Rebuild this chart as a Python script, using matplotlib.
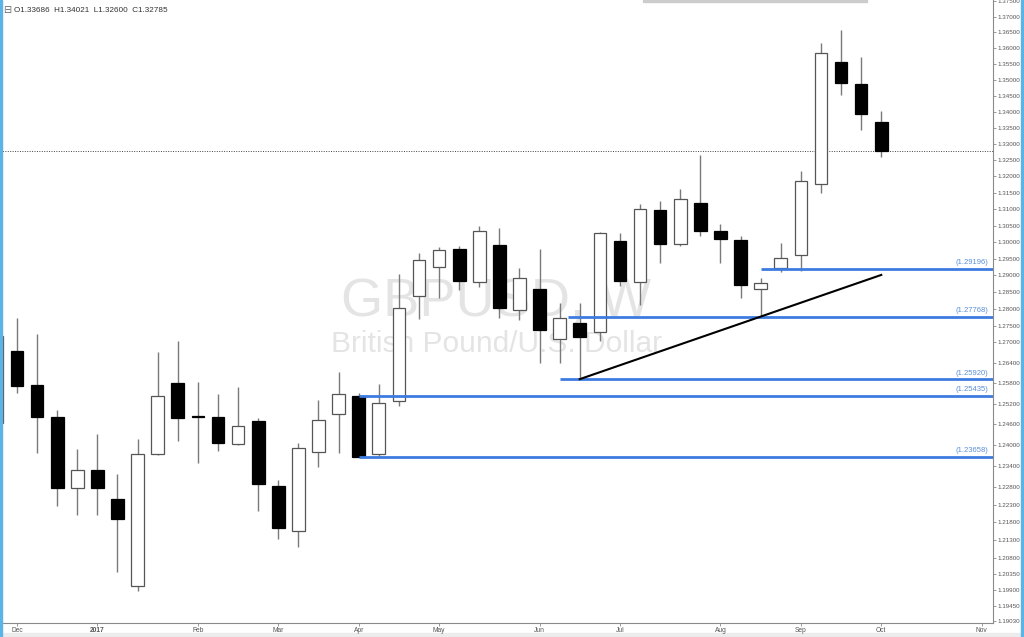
import numpy as np
import matplotlib.pyplot as plt
from matplotlib.patches import Rectangle
from matplotlib.ticker import FixedLocator, FixedFormatter, NullLocator

plt.rcParams["font.family"] = ["Liberation Sans", "DejaVu Sans"]

# weekly GBPUSD bars, index 0 = week of 5 Dec 2016 (-1 is the cut-off bar on the left edge)
week = np.arange(-1, 44)
opens = [1.2464, 1.2676, 1.2574, 1.2481, 1.2278, 1.2330, 1.2246, 1.2000, 1.2374, 1.2580,
         1.2484, 1.2481, 1.2403, 1.2470, 1.2284, 1.2154, 1.2380, 1.2490, 1.2544, 1.2374,
         1.2528, 1.2837, 1.2924, 1.2979, 1.2879, 1.2991, 1.2797, 1.2858, 1.2711, 1.2758,
         1.2731, 1.3003, 1.2879, 1.3097, 1.2994, 1.3118, 1.3033, 1.3006, 1.2858, 1.2921,
         1.2961, 1.3178, 1.3556, 1.3487, 1.33686]
highs = [1.2740, 1.2772, 1.2726, 1.2502, 1.2388, 1.2432, 1.2316, 1.2417, 1.2673, 1.2705,
         1.2583, 1.2548, 1.2569, 1.2478, 1.2301, 1.2406, 1.2531, 1.2612, 1.2551, 1.2577,
         1.2903, 1.2967, 1.2985, 1.2988, 1.3048, 1.3042, 1.2921, 1.2979, 1.2816, 1.2816,
         1.3030, 1.3027, 1.3115, 1.3124, 1.3160, 1.3267, 1.3054, 1.3018, 1.2891, 1.2997,
         1.3218, 1.3616, 1.3656, 1.3572, 1.34021]
lows = [1.2455, 1.2551, 1.2377, 1.2226, 1.2201, 1.2199, 1.2039, 1.1986, 1.2371, 1.2412,
        1.2348, 1.2383, 1.2400, 1.2212, 1.2132, 1.2109, 1.2336, 1.2377, 1.2366, 1.2365,
        1.2513, 1.2770, 1.2831, 1.2855, 1.2864, 1.2773, 1.2767, 1.2638, 1.2638, 1.2592,
        1.2705, 1.2867, 1.2812, 1.2936, 1.2988, 1.3018, 1.2936, 1.2831, 1.2777, 1.2909,
        1.2912, 1.3148, 1.3452, 1.3342, 1.32600]
closes = [1.2720, 1.2572, 1.2481, 1.2278, 1.2330, 1.2278, 1.2190, 1.2374, 1.2542, 1.2478,
          1.2482, 1.2406, 1.2455, 1.2289, 1.2162, 1.2391, 1.2473, 1.2548, 1.2367, 1.2522,
          1.2803, 1.2946, 1.2976, 1.2882, 1.3033, 1.2803, 1.2891, 1.2737, 1.2773, 1.2717,
          1.3027, 1.2882, 1.3100, 1.2994, 1.3130, 1.3033, 1.3009, 1.2870, 1.2876, 1.2952,
          1.3187, 1.3584, 1.3490, 1.3392, 1.32785]

# support levels drawn by hand and the bar where each one starts
levels = [1.29196, 1.27768, 1.25920, 1.25435, 1.23658]
level_start = [37, 27.4, 27, 17, 17]

# trend line from the June low up to the last bar
trend_x = [28, 43]
trend_y = [1.2592, 1.2901]

month_pos = [0, 4, 9, 13, 17, 21, 26, 30, 35, 39, 43, 48]
month_lab = ["Dec", "2017", "Feb", "Mar", "Apr", "May", "Jun", "Jul", "Aug", "Sep", "Oct", "Nov"]

price_ticks = [1.375, 1.370, 1.365, 1.360, 1.355, 1.350, 1.345, 1.340, 1.335, 1.330,
               1.325, 1.320, 1.315, 1.310, 1.305, 1.300, 1.295, 1.290, 1.285, 1.280,
               1.275, 1.270, 1.264, 1.258, 1.252, 1.246, 1.240, 1.234, 1.228, 1.223,
               1.218, 1.213, 1.208, 1.2035, 1.199, 1.1945, 1.1903]

last_close = closes[-1]

fig = plt.figure(figsize=(10.24, 6.37), dpi=100)
ax = fig.add_axes([0.0, 14 / 637, 993 / 1024, 623 / 637])
ax.set_yscale("log")
ax.set_xlim(-0.846, 48.56)
ax.set_ylim(1.18975, 1.37531)

# watermark
ax.text(0.5, 0.493, "GBPUSD, W", transform=ax.transAxes, ha="center", va="baseline",
        fontsize=39, color="#e4e4e4", zorder=0)
ax.text(0.5, 0.435, "British Pound/U.S. Dollar", transform=ax.transAxes, ha="center",
        va="baseline", fontsize=21.5, color="#e4e4e4", zorder=0)

o = np.array(opens)
c = np.array(closes)
up = c >= o
body_lo = np.minimum(o, c)
body_hi = np.maximum(o, c)
width = 0.63

ax.vlines(week, lows, highs, color="#7a7a7a", lw=1.0, zorder=3)
ax.bar(week[up], body_hi[up] - body_lo[up], bottom=body_lo[up], width=width,
       facecolor="white", edgecolor="#555555", lw=0.9, zorder=4)
ax.bar(week[~up], body_hi[~up] - body_lo[~up], bottom=body_lo[~up], width=width,
       facecolor="black", edgecolor="black", lw=0.9, zorder=4)

# last price dotted line
ax.axhline(last_close, color="#444444", ls=(0, (1, 1.5)), lw=0.7, zorder=2)

# levels with their labels
for lev, start in zip(levels, level_start):
    ax.hlines(lev, start, 48.56, color="#3d7be0", lw=2.0, zorder=5)
    ax.text(48.3, lev * 1.0006, f"({lev:.5f})", ha="right", va="bottom",
            fontsize=5.5, color="#5b8fd8", zorder=6)

ax.plot(trend_x, trend_y, color="black", lw=1.5, zorder=6)

# axes styling
for side in ["top", "left"]:
    ax.spines[side].set_visible(False)
for side in ["right", "bottom"]:
    ax.spines[side].set_color("#8a8a8a")
    ax.spines[side].set_linewidth(0.8)

ax.yaxis.tick_right()
ax.yaxis.set_major_locator(FixedLocator(price_ticks))
ax.yaxis.set_major_formatter(FixedFormatter([f"{v:.5f}" for v in price_ticks]))
ax.yaxis.set_minor_locator(NullLocator())
ax.tick_params(axis="y", length=2.5, width=0.6, color="#8a8a8a", labelsize=4.5,
               labelcolor="#555555", pad=1)

ax.set_xticks(month_pos)
ax.set_xticklabels(month_lab)
ax.tick_params(axis="x", length=2.5, width=0.6, color="#8a8a8a", labelsize=4.8,
               labelcolor="#555555", pad=0.5)
for lab in ax.get_xticklabels():
    if lab.get_text() == "2017":
        lab.set_fontweight("bold")

# header with OHLC of the last bar
fig.text(3 / 1024, 1 - 10 / 637, "\u229f", fontsize=7, color="#666666", va="center",
         family=["DejaVu Sans"])
fig.text(14 / 1024, 1 - 10 / 637,
         f"O{opens[-1]:.5f}  H{highs[-1]:.5f}  L{lows[-1]:.5f}  C{closes[-1]:.5f}",
         fontsize=5.9, color="#333333", va="center")

# window chrome around the chart
fig.patches.append(Rectangle((0, 0), 2 / 1024, 1, transform=fig.transFigure,
                             color="#5ab4e6", zorder=10))
fig.patches.append(Rectangle((1021 / 1024, 0), 3 / 1024, 1, transform=fig.transFigure,
                             color="#5ab4e6", zorder=10))
fig.patches.append(Rectangle((0, 0), 1, 4 / 637, transform=fig.transFigure,
                             color="#ececec", zorder=-1))
fig.patches.append(Rectangle((643 / 1024, 1 - 2 / 637), 224 / 1024, 2 / 637,
                             transform=fig.transFigure, color="#cccccc", zorder=9))

fig.savefig("out.png", dpi=100)
